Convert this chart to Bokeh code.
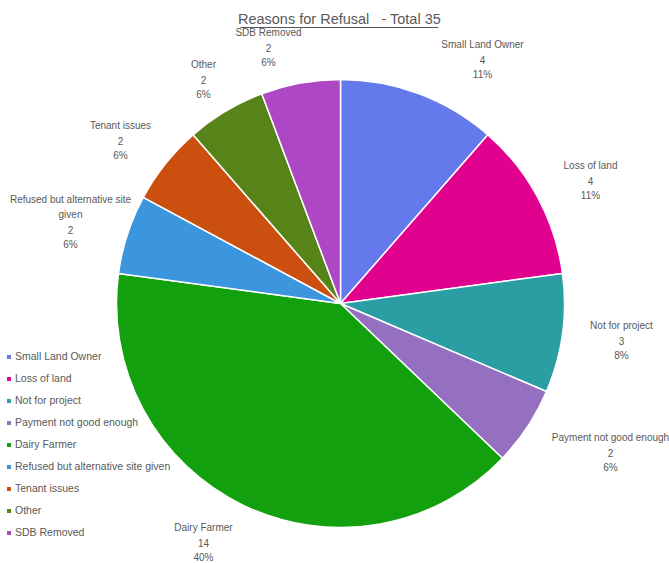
import math
from bokeh.plotting import figure
from bokeh.models import ColumnDataSource, Range1d, Legend, LegendItem, Label
from bokeh.core.properties import value
from bokeh.embed import file_html
from bokeh.resources import INLINE

# ---------------- data ----------------
categories = ["Small Land Owner", "Loss of land", "Not for project",
              "Payment not good enough", "Dairy Farmer",
              "Refused but alternative site given", "Tenant issues",
              "Other", "SDB Removed"]
counts = [4, 4, 3, 2, 14, 2, 2, 2, 2]
percent_labels = ["11%", "11%", "8%", "6%", "40%", "6%", "6%", "6%", "6%"]
title_text = "Reasons for Refusal\u00a0\u00a0\u00a0- Total 35"

# ---------------- styles / layout ----------------
colors = ["#6479EC", "#E2008E", "#2A9EA3", "#9670C0", "#13A00F",
          "#3B96DE", "#CB4F0F", "#578418", "#AE47C4"]
FONT = "Liberation Sans"
TEXT_COLOR = "#595959"
W, H = 669, 563
# data coordinates: x = page pixel x, y = H - page pixel y
CX, CY, R = 340, 260, 224
label_name_lines = [["Small Land Owner"], ["Loss of land"], ["Not for project"],
                    ["Payment not good enough"], ["Dairy Farmer"],
                    ["Refused but alternative site", "given"], ["Tenant issues"],
                    ["Other"], ["SDB Removed"]]
label_anchor = [(482, 59), (590, 180), (621, 340), (610, 452), (203, 542),
                (70, 221.5), (120, 140), (203, 79), (268, 47)]
LINE_STEP = 15

# ---------------- figure ----------------
p = figure(width=W, height=H, output_backend="svg", toolbar_location=None,
           x_range=Range1d(0, W), y_range=Range1d(0, H),
           min_border=0, min_border_left=0, min_border_right=0,
           min_border_top=0, min_border_bottom=0)
p.axis.visible = False
p.grid.visible = False
p.outline_line_color = None
p.background_fill_color = "white"
p.border_fill_color = "white"

total = sum(counts)
starts, ends = [], []
cum = 0
for c in counts:
    starts.append(math.pi / 2 - 2 * math.pi * cum / total)
    cum += c
    ends.append(math.pi / 2 - 2 * math.pi * cum / total)

src = ColumnDataSource(dict(x=[CX] * len(counts), y=[CY] * len(counts),
                            start=starts, end=ends, color=colors,
                            cat=categories, count=counts))
p.wedge(x="x", y="y", radius=R, start_angle="start", end_angle="end",
        direction="clock", fill_color="color", line_color="white",
        line_width=1.5, source=src)
# zero-radius copy used only for clean legend swatches
lr = p.wedge(x="x", y="y", radius=0, start_angle="start", end_angle="end",
             direction="clock", fill_color="color", line_color=None, source=src)

# data labels: name lines, count, percent
tx, ty, tt = [], [], []
for i in range(len(categories)):
    lines = label_name_lines[i] + [str(counts[i]), percent_labels[i]]
    ax, ay = label_anchor[i]
    n = len(lines)
    for j, ln in enumerate(lines):
        tx.append(ax)
        ty.append(H - (ay + (j - (n - 1) / 2) * LINE_STEP))
        tt.append(ln)
p.text(x=tx, y=ty, text=tt, text_font=value(FONT), text_font_size="10px",
       text_color=TEXT_COLOR, text_align="center", text_baseline="middle")

# title with underline
p.add_layout(Label(x=339, y=H - 18, text=title_text, text_font=FONT,
                   text_font_size="14.5px", text_color=TEXT_COLOR,
                   text_align="center", text_baseline="middle"))
p.line(x=[240, 438], y=[H - 27, H - 27], line_color=TEXT_COLOR, line_width=1)

# legend
items = [LegendItem(label=c, renderers=[lr], index=i) for i, c in enumerate(categories)]
legend = Legend(items=items, location=(6, 21), orientation="vertical",
                glyph_width=5, glyph_height=5, label_standoff=4,
                label_height=20, spacing=2, padding=0, margin=0,
                border_line_color=None, background_fill_alpha=0,
                label_text_font=FONT, label_text_font_size="10.5px",
                label_text_color=TEXT_COLOR)
p.add_layout(legend, "center")

open("out.html", "w").write(file_html(p, INLINE))
